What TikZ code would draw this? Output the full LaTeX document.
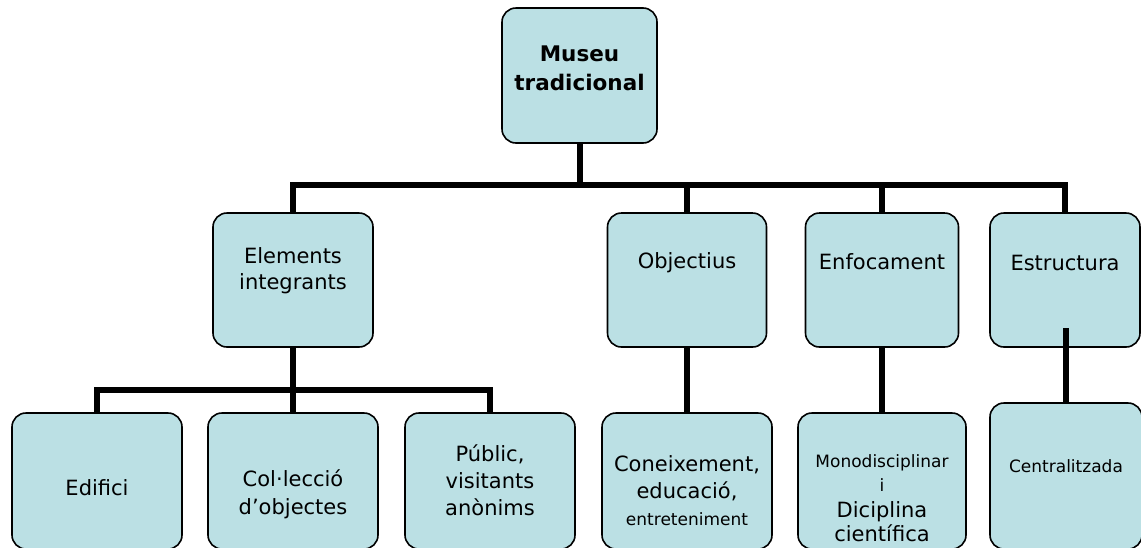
\documentclass[tikz,border=0pt]{standalone}
\usepackage{fontspec}
\setmainfont{DejaVu Sans}
\usetikzlibrary{positioning}
\definecolor{boxblue}{RGB}{187,224,228}
\tikzset{
  box/.style={draw, line width=1.6pt, fill=boxblue, rounded corners=14pt, inner sep=0pt},
  conn/.style={line width=6pt},
  txt/.style={align=center, font=\fontsize{21}{26}\selectfont},
  smalltxt/.style={align=center, font=\fontsize{17}{24}\selectfont},
}

\begin{document}
\begin{tikzpicture}[x=1pt, y=-1pt]
            \clip (0,0) rectangle (1141,547);
            % boxes
            \node[box, minimum width=155pt, minimum height=135pt] (museu) at (579.5,75.5) {};
            \node[box, minimum width=160pt, minimum height=134pt] (elem) at (293,280) {};
            \node[box, minimum width=159pt, minimum height=134pt] (obj) at (687,280) {};
            \node[box, minimum width=153pt, minimum height=134pt] (enf) at (882,280) {};
            \node[box, minimum width=150pt, minimum height=134pt] (estr) at (1065,280) {};
            \node[box, minimum width=170pt, minimum height=136pt] (edif) at (97,481) {};
            \node[box, minimum width=170pt, minimum height=136pt] (coll) at (293,481) {};
            \node[box, minimum width=170pt, minimum height=136pt] (public) at (490,481) {};
            \node[box, minimum width=170pt, minimum height=136pt] (con) at (687,481) {};
            \node[box, minimum width=168pt, minimum height=136pt] (mono) at (882,481) {};
            \node[box, minimum width=152pt, minimum height=146pt] (centr) at (1066,476) {};
            % connectors
            \coordinate (bus1) at (579.5,185);
            \coordinate (bus2) at (293,390);
            \coordinate (estrin) at (1066,328);
            \draw[conn] (museu.south) -- (bus1);
            \draw[conn] (elem.north) |- (bus1) -| (estr.north);
            \draw[conn] (obj.north) -- (obj.north |- bus1);
            \draw[conn] (enf.north) -- (enf.north |- bus1);
            \draw[conn] (elem.south) -- (bus2);
            \draw[conn] (edif.north) |- (bus2) -| (public.north);
            \draw[conn] (coll.north) -- (bus2);
            \draw[conn] (obj.south) -- (con.north);
            \draw[conn] (enf.south) -- (mono.north);
            \draw[conn] (estrin) -- (centr.north);
            % texts
            \node[txt, font=\fontsize{21.5}{29}\selectfont\bfseries] (museut) at (579.5,68) {Museu\\tradicional};
            \node[txt] (elemt) at (293,271) {Elements\\integrants};
            \node[txt] (objt) at (687,263) {Objectius};
            \node[txt] (enft) at (882,262) {Enfocament};
            \node[txt] (estrt) at (1065,263) {Estructura};
            \node[txt] (ediftt) at (97,488) {Edifici};
            \node[txt, font=\fontsize{21}{28}\selectfont] (collt) at (293,494) {Col·lecció\\d’objectes};
            \node[txt, font=\fontsize{21}{27}\selectfont] (publict) at (490,480) {Públic,\\visitants\\anònims};
            \node[txt, font=\fontsize{21}{27}\selectfont] (cont) at (687,478) {Coneixement,\\educació,};
            \node[smalltxt] (cont2) at (687,519) {entreteniment};
            \node[smalltxt] (monot) at (882,473) {Monodisciplinar\\i};
            \node[txt, font=\fontsize{21}{24}\selectfont] (monot2) at (882,522) {Diciplina\\científica};
            \node[smalltxt] (centrt) at (1066,466) {Centralitzada};
\end{tikzpicture}
\end{document}
